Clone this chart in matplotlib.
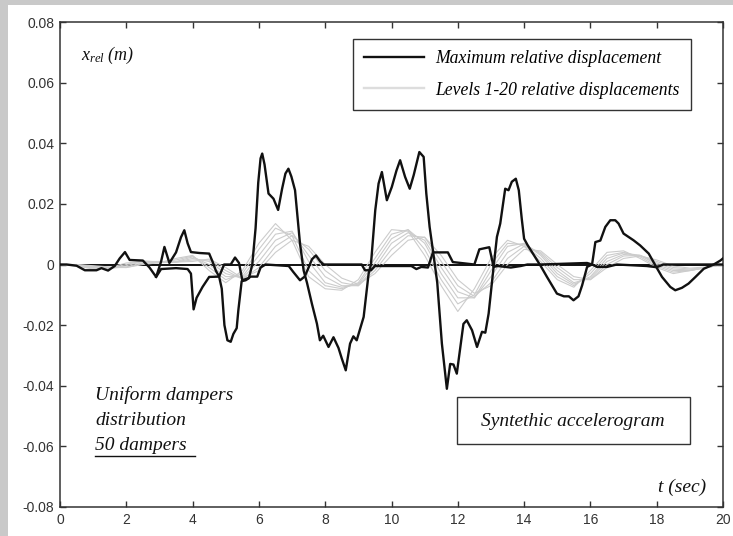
import matplotlib
matplotlib.use("Agg")
import matplotlib.pyplot as plt
from matplotlib.patches import Rectangle
from matplotlib.lines import Line2D

# maximum relative displacement, main curve (t in s, x in m)
max_t = [0.0, 0.2, 0.5, 0.75, 1.1, 1.25, 1.45, 1.65, 1.8, 1.96, 2.1, 2.5, 2.7, 2.9,
         3.05, 3.15, 3.3, 3.5, 3.65, 3.75, 3.85, 3.95, 4.2, 4.5, 4.6, 4.7, 4.8, 4.88,
         4.96, 5.05, 5.15, 5.23, 5.33, 5.38, 5.48, 5.6, 5.7, 5.8, 5.9, 5.98, 6.05, 6.1,
         6.17, 6.29, 6.44, 6.58, 6.7, 6.8, 6.89, 6.98, 7.09, 7.17, 7.24, 7.35, 7.45,
         7.6, 7.75, 7.84, 7.94, 8.1, 8.25, 8.4, 8.5, 8.62, 8.75, 8.85, 8.95, 9.16, 9.31,
         9.38, 9.51, 9.61, 9.71, 9.86, 10.01, 10.15, 10.26, 10.41, 10.55, 10.67, 10.84,
         10.97, 11.05, 11.15, 11.25, 11.38, 11.52, 11.67, 11.77, 11.87, 11.97, 12.17,
         12.27, 12.43, 12.58, 12.73, 12.83, 12.93, 13.08, 13.18, 13.28, 13.43, 13.53,
         13.63, 13.75, 13.84, 13.93, 14.0, 14.1, 14.3, 14.49, 14.69, 14.99, 15.2, 15.35,
         15.49, 15.64, 15.75, 15.9, 16.05, 16.15, 16.3, 16.45, 16.6, 16.75, 16.85, 17.0,
         17.15, 17.3, 17.5, 17.76, 17.96, 18.16, 18.41, 18.56, 18.76, 18.96, 19.17,
         19.42, 19.72, 19.92, 20.0]
max_x = [0.0, 0.0, -0.0004, -0.0019, -0.0019, -0.0012, -0.002, -0.0005, 0.002, 0.0041,
         0.0015, 0.0013, -0.001, -0.0041, 0.001, 0.0058, 0.0005, 0.004, 0.009, 0.0113,
         0.007, 0.0041, 0.0038, 0.0036, 0.001, -0.002, -0.004, -0.008, -0.02, -0.025,
         -0.0255, -0.0229, -0.021, -0.0151, -0.0055, -0.0052, -0.0045, 0.0, 0.012, 0.027,
         0.035, 0.0366, 0.033, 0.0234, 0.0217, 0.018, 0.025, 0.030, 0.0316, 0.029,
         0.0245, 0.015, 0.0069, -0.002, -0.006, -0.013, -0.0195, -0.025, -0.0235,
         -0.0272, -0.024, -0.0275, -0.031, -0.0349, -0.0261, -0.0237, -0.025, -0.0173,
         -0.003, 0.0, 0.0179, 0.0267, 0.0305, 0.0212, 0.0256, 0.031, 0.0344, 0.0289,
         0.025, 0.0295, 0.0371, 0.0355, 0.0234, 0.0124, 0.0046, -0.006, -0.0261, -0.041,
         -0.0328, -0.033, -0.036, -0.0196, -0.0184, -0.0217, -0.0272, -0.0222, -0.0225,
         -0.0162, -0.0008, 0.0091, 0.0135, 0.025, 0.0245, 0.0273, 0.0283, 0.0245, 0.015,
         0.0085, 0.0065, 0.003, -0.0003, -0.0041, -0.0096, -0.0105, -0.0105, -0.0118,
         -0.0105, -0.0069, -0.0008, 0.0, 0.0074, 0.0079, 0.0124, 0.0146, 0.0146, 0.0135,
         0.0102, 0.0091, 0.008, 0.0063, 0.0036, -0.0003, -0.0041, -0.0074, -0.0085,
         -0.0077, -0.0063, -0.0041, -0.0014, 0.0, 0.0013, 0.002]

# opposite-side envelope of the maximum displacement
env_t = [2.9, 3.05, 3.5, 3.85, 3.95, 4.03, 4.12, 4.3, 4.5, 4.8, 4.95, 5.15, 5.28, 5.4,
         5.5, 5.68, 5.75, 5.95, 6.05, 6.2, 6.9, 7.04, 7.24, 7.38, 7.5, 7.6, 7.72, 7.85,
         7.95, 9.1, 9.2, 9.38, 9.5, 10.6, 10.75, 10.9, 11.1, 11.25, 11.7, 11.85, 12.5,
         12.65, 12.95, 13.08, 13.2, 13.6, 13.9, 14.1, 14.5, 15.9, 16.05, 16.2, 16.5,
         16.8, 17.7, 18.0, 18.2, 20.0]
env_x = [-0.0041, -0.0015, -0.0012, -0.0015, -0.003, -0.0148, -0.011, -0.0074, -0.0041,
         -0.004, 0.0, 0.0, 0.0023, 0.0005, -0.0052, -0.0045, -0.004, -0.004, -0.001, 0.0,
         -0.0005, -0.0025, -0.0052, -0.004, -0.001, 0.0017, 0.003, 0.001, 0.0, 0.0,
         -0.0019, -0.0019, -0.0005, -0.0005, -0.0015, -0.0008, -0.001, 0.004, 0.004,
         0.0008, 0.0, 0.005, 0.0057, -0.0008, -0.0005, -0.001, -0.0005, 0.0, 0.0, 0.0005,
         0.0, -0.0008, -0.0008, 0.0, -0.0005, -0.0009, 0.0, 0.0]

# levels relative displacements (every 0.5 s)
lev_t = [i * 0.5 for i in range(41)]
levels = [
    [0, -0.0005, -0.0015, -0.001, 0.0005, 0.001, 0.0005, 0.002, 0.003, -0.002, -0.006,
     -0.002, 0.007, 0.0135, 0.008, -0.004, -0.008, -0.0085, -0.005, 0.004, 0.0115,
     0.011, 0.003, -0.007, -0.0155, -0.008, 0.002, 0.008, 0.006, 0.001, -0.005, -0.0075,
     -0.002, 0.004, 0.0045, 0.002, -0.001, -0.003, -0.002, -0.001, 0.0],
    [0, -0.0004, -0.0012, -0.0012, 0.0, 0.0012, 0.0008, 0.0015, 0.0028, -0.001, -0.005,
     -0.003, 0.005, 0.012, 0.0095, -0.002, -0.007, -0.008, -0.006, 0.002, 0.010, 0.0115,
     0.005, -0.005, -0.013, -0.010, 0.0, 0.007, 0.0065, 0.002, -0.004, -0.007, -0.003,
     0.003, 0.004, 0.0025, -0.0005, -0.0025, -0.002, -0.001, 0.0],
    [0, -0.0003, -0.001, -0.0013, -0.0004, 0.001, 0.001, 0.001, 0.0025, 0.0, -0.004,
     -0.004, 0.003, 0.010, 0.011, 0.001, -0.006, -0.0075, -0.0065, 0.0005, 0.0085,
     0.0115, 0.007, -0.003, -0.011, -0.011, -0.002, 0.006, 0.007, 0.003, -0.003,
     -0.0065, -0.004, 0.002, 0.0038, 0.003, 0.0, -0.002, -0.002, -0.001, 0.0],
    [0, -0.0002, -0.0008, -0.0012, -0.0008, 0.0006, 0.001, 0.0008, 0.002, 0.001, -0.003,
     -0.0045, 0.001, 0.008, 0.0105, 0.003, -0.004, -0.007, -0.007, -0.001, 0.007, 0.0105,
     0.008, -0.001, -0.009, -0.011, -0.004, 0.004, 0.0068, 0.0035, -0.002, -0.006,
     -0.0045, 0.001, 0.0033, 0.003, 0.0005, -0.0015, -0.0018, -0.001, 0.0],
    [0, -0.0001, -0.0006, -0.001, -0.001, 0.0003, 0.0008, 0.0008, 0.0015, 0.0015, -0.002,
     -0.0048, -0.001, 0.006, 0.0095, 0.005, -0.002, -0.006, -0.007, -0.002, 0.005,
     0.0095, 0.009, 0.001, -0.007, -0.0105, -0.006, 0.002, 0.006, 0.004, -0.001, -0.005,
     -0.005, 0.0, 0.0028, 0.003, 0.001, -0.001, -0.0015, -0.001, 0.0],
    [0, 0.0, -0.0004, -0.0008, -0.001, 0.0, 0.0006, 0.0008, 0.001, 0.0018, -0.001,
     -0.0045, -0.002, 0.004, 0.008, 0.006, 0.0, -0.0045, -0.0065, -0.003, 0.003, 0.008,
     0.009, 0.003, -0.005, -0.0095, -0.007, 0.0, 0.005, 0.0045, 0.0, -0.004, -0.005,
     -0.001, 0.002, 0.0028, 0.0015, -0.0005, -0.0012, -0.0008, 0.0],
]

x_ticks = [0, 2, 4, 6, 8, 10, 12, 14, 16, 18, 20]
y_ticks = [-0.08, -0.06, -0.04, -0.02, 0, 0.02, 0.04, 0.06, 0.08]
y_labels = ["-0.08", "-0.06", "-0.04", "-0.02", "0", "0.02", "0.04", "0.06", "0.08"]

W, H = 733, 536
def fx(px):
    return px / W
def fy(py):
    return 1 - py / H

plt.rcParams['mathtext.fontset'] = 'custom'
plt.rcParams['mathtext.it'] = 'Liberation Serif:italic'
plt.rcParams['mathtext.rm'] = 'Liberation Serif:italic'

fig = plt.figure(figsize=(W / 100, H / 100), dpi=100)
fig.patch.set_facecolor('#c9c9c9')
fig.add_artist(Rectangle((fx(8), 0), 1 - fx(8), fy(5), transform=fig.transFigure,
                         facecolor='white', edgecolor='none', zorder=-1))

ax = fig.add_axes([fx(60), fy(507), fx(723) - fx(60), fy(22) - fy(507)])

ax.axhline(0, color='#111111', lw=1.4, zorder=1)
for lv in levels:
    ax.plot(lev_t, lv, color='#cccccc', lw=0.8, zorder=2)
ax.plot(env_t, env_x, color='#111111', lw=1.7, zorder=3)
ax.plot(max_t, max_x, color='#111111', lw=1.7, zorder=3)

ax.set_xlim(0, 20)
ax.set_ylim(-0.08, 0.08)
ax.set_xticks(x_ticks)
ax.set_yticks(y_ticks)
ax.set_yticklabels(y_labels)
ax.tick_params(direction='in', length=4.5, width=1, color='#333333',
               top=True, right=True, labelcolor='#333333', labelsize=10, pad=4)
for lab in ax.get_xticklabels() + ax.get_yticklabels():
    lab.set_family('Liberation Sans')
for s in ax.spines.values():
    s.set_color('#333333')
    s.set_linewidth(1.1)

serif = dict(family='Liberation Serif', style='italic', color='#111111')

handles = [Line2D([], [], color='#111111', lw=1.7),
           Line2D([], [], color='#dddddd', lw=1.7)]
leg = ax.legend(handles, ['Maximum relative displacement',
                          'Levels 1-20 relative displacements'],
                loc='upper left', bbox_to_anchor=(fx(353), fy(39)),
                bbox_transform=fig.transFigure, borderaxespad=0, fancybox=False,
                framealpha=1, edgecolor='#333333', handlelength=3.4,
                handletextpad=0.6, labelspacing=0.8, borderpad=0.65,
                prop=dict(family='Liberation Serif', style='italic', size=12.7))
leg.get_frame().set_linewidth(1.0)

fig.text(fx(81), fy(60), r'$x_{rel}\ (m)$', fontsize=13, color='#111111',
         ha='left', va='baseline')

fig.text(fx(95), fy(400), 'Uniform dampers', fontsize=14, ha='left', va='baseline', **serif)
fig.text(fx(95), fy(425), 'distribution', fontsize=14, ha='left', va='baseline', **serif)
fig.text(fx(95), fy(450), '50 dampers', fontsize=14, ha='left', va='baseline', **serif)
fig.add_artist(Line2D([fx(95), fx(195)], [fy(456), fy(456)], color='#111111', lw=1.0,
                      transform=fig.transFigure))

fig.add_artist(Rectangle((fx(457), fy(444)), fx(690) - fx(457), fy(397) - fy(444),
                         transform=fig.transFigure, facecolor='white',
                         edgecolor='#333333', lw=1.0, zorder=5))
fig.text(fx(573), fy(421), 'Syntethic accelerogram', fontsize=14, ha='center',
         va='center', zorder=6, **serif)

fig.text(fx(706), fy(492), 't (sec)', fontsize=14, ha='right', va='baseline', **serif)

fig.savefig('out.png', dpi=100, facecolor=fig.get_facecolor())
